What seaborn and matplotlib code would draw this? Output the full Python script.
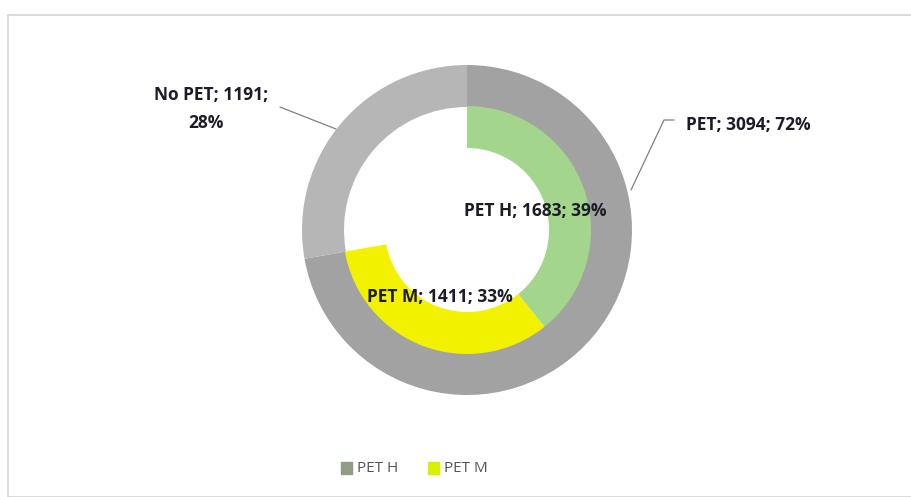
import matplotlib.pyplot as plt
import seaborn as sns
from matplotlib.patches import Rectangle

# data
outer_labels = ["PET", "No PET"]
outer_values = [3094, 1191]
outer_pct = [72, 28]
inner_labels = ["PET H", "PET M", ""]
inner_values = [1683, 1411, 1191]
inner_pct = [39, 33]

sns.set_theme(style="white")
plt.rcParams['font.family'] = ['Open Sans', 'DejaVu Sans']

outer_colors = ["#a2a2a2", "#b6b6b6"]
inner_colors = ["#a3d68c", "#f2f200", (1, 1, 1, 0)]

fig = plt.figure(figsize=(9.11, 4.97), dpi=100)
ax = fig.add_axes([0, 0, 1, 1])

# frame around chart area
fig.patches.append(Rectangle((8 / 911, 0), 1, 1 - 15 / 497, transform=fig.transFigure,
                             fill=False, edgecolor="#d4d4d4", linewidth=1.2))

cx, cy = 467, 497 - 230
ax.pie(outer_values, radius=165, center=(cx, cy), startangle=90, counterclock=False,
       colors=outer_colors, wedgeprops=dict(width=42, edgecolor="none"), frame=True)
ax.pie(inner_values, radius=124, center=(cx, cy), startangle=90, counterclock=False,
       colors=inner_colors, wedgeprops=dict(width=42, edgecolor="none"), frame=True)
ax.set_xlim(0, 911)
ax.set_ylim(0, 497)
ax.set_aspect("equal")
ax.axis("off")

tkw = dict(fontsize=12.5, fontweight="bold", color="#1c1c28")
ax.text(535, 497 - 211, f"{inner_labels[0]}; {inner_values[0]}; {inner_pct[0]}%",
        ha="center", va="center", **tkw)
ax.text(440, 497 - 297, f"{inner_labels[1]}; {inner_values[1]}; {inner_pct[1]}%",
        ha="center", va="center", **tkw)
ax.text(211, 497 - 95, f"{outer_labels[1]}; {outer_values[1]};",
        ha="center", va="center", **tkw)
ax.text(206, 497 - 123, f"{outer_pct[1]}%", ha="center", va="center", **tkw)
ax.text(748, 497 - 125, f"{outer_labels[0]}; {outer_values[0]}; {outer_pct[0]}%",
        ha="center", va="center", **tkw)

# leader lines
ax.plot([280, 336], [497 - 107, 497 - 129], color="#808080", lw=0.9)
ax.plot([674, 664, 631], [497 - 120, 497 - 120, 497 - 190], color="#808080", lw=0.9)

# legend
ax.add_patch(Rectangle((341, 497 - 474), 11, 12, color="#8f9c88"))
ax.text(357, 497 - 468, "PET H", fontsize=11, color="#555555", va="center")
ax.add_patch(Rectangle((428, 497 - 474), 11, 12, color="#d8f000"))
ax.text(444, 497 - 468, "PET M", fontsize=11, color="#555555", va="center")

fig.savefig("out.png", dpi=100)
